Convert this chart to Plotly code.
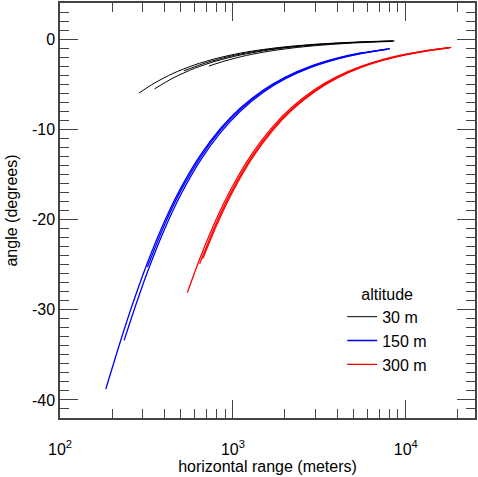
import plotly.graph_objects as go

# ---- data (horizontal range in m, angle in degrees) ----
alt30_a_x = [286, 350, 450, 600, 800, 1100, 1500, 2000, 3000, 4500, 6500, 8500]
alt30_a_y = [-5.99, -4.90, -3.81, -2.86, -2.15, -1.56, -1.15, -0.86, -0.57, -0.38, -0.26, -0.20]
alt30_b_x = [352, 450, 600, 800, 1100, 1500, 2000, 3000, 4500, 6500, 8300]
alt30_b_y = [-5.52, -4.32, -3.24, -2.43, -1.77, -1.30, -0.97, -0.65, -0.43, -0.30, -0.23]
alt30_c_x = [727, 900, 1200, 1600, 2200, 3000, 4500, 6500, 8400]
alt30_c_y = [-2.99, -2.42, -1.81, -1.36, -0.99, -0.73, -0.48, -0.33, -0.26]
alt30_d_x = [520, 700, 950, 1300, 1800, 2500, 3500, 5000, 7000, 8600]
alt30_d_y = [-3.52, -2.62, -1.93, -1.41, -1.02, -0.73, -0.52, -0.37, -0.26, -0.21]

alt150_a_x = [184, 220, 260, 320, 400, 500, 650, 850, 1100, 1500, 2000, 2800, 4000, 5500, 8100]
alt150_a_y = [-38.8, -33.93, -29.65, -24.82, -20.3, -16.49, -12.83, -9.88, -7.66, -5.64, -4.23, -3.03, -2.12, -1.54, -1.05]
alt150_b_x = [235, 260, 320, 400, 500, 650, 850, 1100, 1500, 2000, 2800, 4000, 5500, 7800]
alt150_b_y = [-33.4, -30.8, -25.85, -21.18, -17.22, -13.41, -10.34, -8.02, -5.90, -4.43, -3.17, -2.22, -1.61, -1.14]
alt150_c_x = [320, 400, 500, 650, 850, 1100, 1500, 2000, 2800, 4000, 5500, 8000]
alt150_c_y = [-25.27, -20.68, -16.8, -13.08, -10.07, -7.82, -5.75, -4.32, -3.09, -2.16, -1.57, -1.08]

alt300_a_x = [545, 650, 800, 1000, 1300, 1700, 2200, 3000, 4000, 5500, 7500, 10000, 13500, 18300]
alt300_a_y = [-28.1, -24.12, -19.99, -16.23, -12.61, -9.71, -7.53, -5.54, -4.16, -3.03, -2.22, -1.67, -1.24, -0.91]
alt300_b_x = [642, 800, 1000, 1300, 1700, 2200, 3000, 4000, 5500, 7500, 10000, 13500, 17500]
alt300_b_y = [-24.9, -20.43, -16.6, -12.91, -9.94, -7.72, -5.67, -4.26, -3.10, -2.28, -1.71, -1.26, -0.98]
alt300_c_x = [670, 800, 1000, 1300, 1700, 2200, 3000, 4000, 5500, 7500, 10000, 14000, 18000]
alt300_c_y = [-24.33, -20.74, -16.86, -13.12, -10.11, -7.84, -5.77, -4.33, -3.15, -2.31, -1.74, -1.24, -0.96]

legend_labels = ["30 m", "150 m", "300 m"]
x_tick_vals = [100, 1000, 10000]
x_tick_text = ["10<sup>2</sup>", "10<sup>3</sup>", "10<sup>4</sup>"]
y_tick_vals = [0, -10, -20, -30, -40]
y_tick_text = ["0", "-10", "-20", "-30", "-40"]

groups = [
    (legend_labels[0], "#000000", 1.0, [(alt30_a_x, alt30_a_y), (alt30_b_x, alt30_b_y), (alt30_c_x, alt30_c_y), (alt30_d_x, alt30_d_y)]),
    (legend_labels[1], "#0000ff", 1.3, [(alt150_a_x, alt150_a_y), (alt150_b_x, alt150_b_y), (alt150_c_x, alt150_c_y)]),
    (legend_labels[2], "#ff0000", 1.3, [(alt300_a_x, alt300_a_y), (alt300_b_x, alt300_b_y), (alt300_c_x, alt300_c_y)]),
]

fig = go.Figure()
for name, color, w, curves in groups:
    for i, (xs, ys) in enumerate(curves):
        fig.add_trace(go.Scatter(
            x=xs, y=ys, mode="lines", name=name, legendgroup=name,
            showlegend=(i == 0),
            line=dict(color=color, width=w, shape="spline", smoothing=0.8),
        ))

font = "Liberation Sans, Arial, sans-serif"
axcol = "#444444"
fig.update_layout(
    width=478, height=477,
    margin=dict(l=60, r=1, t=1, b=59),
    plot_bgcolor="white", paper_bgcolor="white",
    font=dict(family=font, size=16, color="#000000"),
    showlegend=True,
    legend=dict(
        x=0.68, y=0.335, xanchor="left", yanchor="top",
        bgcolor="rgba(0,0,0,0)",
        tracegroupgap=0,
        title=dict(text="altitude", side="top center", font=dict(size=16)),
        font=dict(size=16),
    ),
    xaxis=dict(
        type="log", range=[2.0, 4.4],
        tickvals=x_tick_vals, ticktext=x_tick_text,
        ticks="inside", ticklen=18, tickcolor=axcol, tickwidth=1,
        showline=True, linecolor=axcol, linewidth=1.5, mirror="allticks",
        showgrid=False, zeroline=False,
        ticklabelstandoff=16,
        minor=dict(ticks="inside", ticklen=9, tickcolor=axcol, dtick="D1", showgrid=False),
        title=dict(text="horizontal range (meters)", font=dict(size=16), standoff=3),
        tickfont=dict(size=16),
    ),
    yaxis=dict(
        range=[-42, 4],
        tickvals=y_tick_vals, ticktext=y_tick_text,
        ticks="inside", ticklen=18, tickcolor=axcol, tickwidth=1,
        showline=True, linecolor=axcol, linewidth=1.5, mirror="allticks",
        showgrid=False, zeroline=False,
        minor=dict(ticks="inside", ticklen=9, tickcolor=axcol, dtick=1, showgrid=False),
        title=dict(text="angle (degrees)", font=dict(size=16), standoff=10),
        tickfont=dict(size=16),
    ),
)

fig.write_html("out.html")
